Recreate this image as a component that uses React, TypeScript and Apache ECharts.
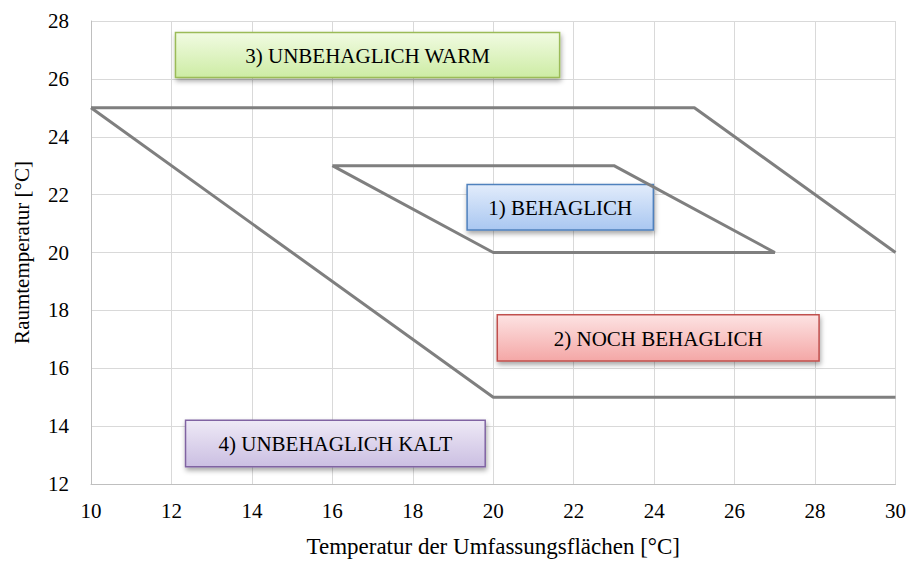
import React, { useEffect, useRef } from "react";
import * as echarts from "echarts";

const xTicks = [10, 30, 2];
const yTicks = [12, 28, 2];
const outerUpper: [number, number][] = [[10, 25], [25, 25], [30, 20]];
const outerLower: [number, number][] = [[10, 25], [20, 15], [30, 15]];
const inner: [number, number][] = [[16, 23], [23, 23], [27, 20], [20, 20], [16, 23]];

// label boxes: text, [x0, y0, x1, y1] in data coords, colours
const labels = [
  { text: "3) UNBEHAGLICH WARM", box: [12.1, 27.6, 21.65, 26.05], top: "#f1fbe2", bottom: "#cdeca4", border: "#9bbb59" },
  { text: "1) BEHAGLICH", box: [19.35, 22.35, 23.98, 20.78], top: "#e2ecfb", bottom: "#a9c7f1", border: "#4f81bd" },
  { text: "2) NOCH BEHAGLICH", box: [20.1, 17.85, 28.1, 16.25], top: "#fde3e3", bottom: "#f4a7a6", border: "#c0504d" },
  { text: "4) UNBEHAGLICH KALT", box: [12.35, 14.2, 19.8, 12.6], top: "#eee9f6", bottom: "#cbbfe2", border: "#8064a2" },
];

const FONT = "'Liberation Serif', 'DejaVu Serif', serif";

export default function App() {
  const ref = useRef<HTMLDivElement>(null);
  useEffect(() => {
    const chart = echarts.init(ref.current!, null, { renderer: "svg" });
    const lineStyle = { color: "#7f7f7f", width: 3 };
    const mk = (data: [number, number][]) => ({
      type: "line",
      data,
      symbol: "none",
      lineStyle,
      clip: false,
    });
    chart.setOption({
      animation: false,
      backgroundColor: "#ffffff",
      grid: { left: 91, right: 13, top: 21, bottom: 78 },
      xAxis: {
        type: "value",
        min: xTicks[0],
        max: xTicks[1],
        interval: xTicks[2],
        name: "Temperatur der Umfassungsflächen [°C]",
        nameLocation: "middle",
        nameGap: 51,
        nameTextStyle: { fontFamily: FONT, fontSize: 23, color: "#000" },
        axisLine: { lineStyle: { color: "#bfbfbf", width: 1 } },
        axisTick: { show: false },
        axisLabel: { fontFamily: FONT, fontSize: 21, color: "#000", margin: 16 },
        splitLine: { lineStyle: { color: "#d9d9d9", width: 1 } },
      },
      yAxis: {
        type: "value",
        min: yTicks[0],
        max: yTicks[1],
        interval: yTicks[2],
        name: "Raumtemperatur [°C]",
        nameLocation: "middle",
        nameGap: 59,
        nameTextStyle: { fontFamily: FONT, fontSize: 21, color: "#000" },
        axisLine: { show: true, lineStyle: { color: "#bfbfbf", width: 1 } },
        axisTick: { show: false },
        axisLabel: { fontFamily: FONT, fontSize: 21, color: "#000", margin: 22 },
        splitLine: { lineStyle: { color: "#d9d9d9", width: 1 } },
      },
      series: [mk(outerUpper), mk(outerLower), mk(inner)],
    });

    const graphics = labels.map((l) => {
      const p0 = chart.convertToPixel({ gridIndex: 0 }, [l.box[0], l.box[1]]) as number[];
      const p1 = chart.convertToPixel({ gridIndex: 0 }, [l.box[2], l.box[3]]) as number[];
      const w = p1[0] - p0[0];
      const h = p1[1] - p0[1];
      return {
        type: "group",
        x: p0[0],
        y: p0[1],
        children: [
          {
            type: "rect",
            shape: { x: 0, y: 0, width: w, height: h },
            style: {
              fill: new echarts.graphic.LinearGradient(0, 0, 0, 1, [
                { offset: 0, color: l.top },
                { offset: 1, color: l.bottom },
              ]),
              stroke: l.border,
              lineWidth: 1.5,
              shadowBlur: 5,
              shadowOffsetX: 1,
              shadowOffsetY: 3,
              shadowColor: "rgba(0,0,0,0.35)",
            },
          },
          {
            type: "text",
            x: w / 2,
            y: h / 2 + 1,
            style: {
              text: l.text,
              fontFamily: FONT,
              fontSize: 21,
              fill: "#000",
              align: "center",
              verticalAlign: "middle",
            },
          },
        ],
      };
    });
    chart.setOption({ graphic: graphics });
    return () => chart.dispose();
  }, []);
  return <div ref={ref} style={{ width: 909, height: 563, position: "absolute", left: 0, top: 0 }} />;
}
